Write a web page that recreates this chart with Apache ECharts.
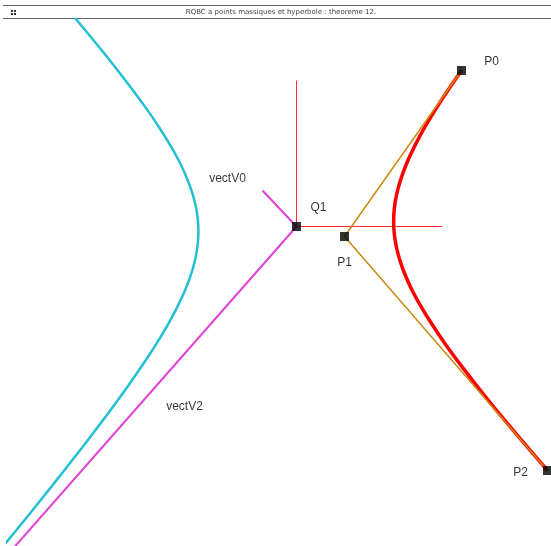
<!DOCTYPE html>
<html>
<head>
<meta charset="utf-8">
<title>RQBC a points massiques et hyperbole</title>
<script src="https://cdn.jsdelivr.net/npm/echarts@6/dist/echarts.min.js"></script>
<style>
  html, body { margin: 0; padding: 0; background: #fff; }
  #chart { width: 551px; height: 546px; }
</style>
</head>
<body>
<div id="chart"></div>
<script>
// coordonnees (repere ecran, y vers le bas)
const pointNames = ['P0', 'P1', 'P2', 'Q1']
const pointX = [461, 344, 547, 296]
const pointY = [70, 236, 470, 226]

// polygone de controle P0 - P1 - P2
const controlPolygon = [[461, 70], [344, 236], [547, 470]]

// croix rouge en Q1
const crossVertical = [[296, 80], [296, 226]]
const crossHorizontal = [[296, 226], [442, 226]]

// vecteurs (asymptotes)
const vectV0 = [[262, 190], [296, 226]]
const vectV2 = [[296, 226], [10, 551]]

// branche rouge (arc P0 -> P2)
const redBranch = [
  [461, 70], [440.2, 100.7], [425.0, 125.4], [413.9, 146.1], [405.7, 164.0],
  [399.9, 180.0], [396.0, 194.5], [393.8, 208.2], [393.1, 221.3], [393.9, 234.2],
  [396.0, 247.0], [399.5, 260.2], [404.5, 274.0], [411.1, 288.7], [419.7, 304.6],
  [430.5, 322.3], [444.0, 342.4], [461.1, 365.6], [482.6, 393.3], [510.4, 427.2],
  [547, 470],
]

// autre branche (cyan)
const cyanBranch = [
  [63.6, 4.8], [80.6, 24.8], [108.4, 58.7], [129.9, 86.4], [147.0, 109.6],
  [160.5, 129.7], [171.3, 147.4], [179.9, 163.3], [186.5, 178.0], [191.6, 191.8],
  [195.1, 205.0], [197.2, 217.8], [197.9, 230.7], [197.2, 243.8], [195.0, 257.5],
  [191.1, 272.1], [185.3, 288.0], [177.1, 305.9], [166.0, 326.6], [150.8, 351.3],
  [130.0, 382.0], [116.7, 400.5], [100.9, 421.8], [81.9, 446.7], [58.6, 476.4],
  [29.8, 512.5], [-6.9, 557.5],
]

const vectNames = ['vectV0', 'vectV2']

// decalage des etiquettes (px)
const labelOffset = {
  P0: [30, -9],
  P1: [0, 26],
  P2: [-27, 2],
  Q1: [22, -19],
  vectV0: [-35, -12],
  vectV2: [-112, 180],
}

const font = 'Liberation Sans, Arial, sans-serif'

const lineSerie = (name, data, color, width, z, smooth) => ({
  name,
  type: 'line',
  data,
  symbol: 'none',
  smooth: smooth || false,
  lineStyle: { color, width },
  z,
  silent: true,
})

const pointData = pointNames.map((name, i) => ({
  name,
  value: [pointX[i], pointY[i]],
  label: { offset: labelOffset[name] },
}))

// etiquettes des vecteurs ancrees sur le debut de vectV0 et sur Q1
const vectData = [
  { name: vectNames[0], value: vectV0[0], label: { offset: labelOffset.vectV0 } },
  { name: vectNames[1], value: vectV2[0], label: { offset: labelOffset.vectV2 } },
]

const labelStyle = {
  show: true,
  position: 'inside',
  formatter: '{b}',
  color: '#000',
  fontSize: 12,
  fontFamily: font,
}

const option = {
  animation: false,
  grid: { left: 8, top: 19, right: 0, bottom: 0 },
  // demi-pixel de decalage pour des traits fins nets
  xAxis: { type: 'value', min: 7.5, max: 550.5, show: false },
  yAxis: { type: 'value', min: 18.5, max: 545.5, inverse: true, show: false },
  graphic: [
    { type: 'line', shape: { x1: 3, y1: 5.5, x2: 551, y2: 5.5 }, style: { stroke: '#666', lineWidth: 1 } },
    { type: 'line', shape: { x1: 3, y1: 18.5, x2: 551, y2: 18.5 }, style: { stroke: '#666', lineWidth: 1 } },
    { type: 'rect', shape: { x: 11, y: 10, width: 2, height: 2 }, style: { fill: '#333' } },
    { type: 'rect', shape: { x: 14, y: 10, width: 2, height: 2 }, style: { fill: '#333' } },
    { type: 'rect', shape: { x: 11, y: 13, width: 2, height: 2 }, style: { fill: '#333' } },
    { type: 'rect', shape: { x: 14, y: 13, width: 2, height: 2 }, style: { fill: '#333' } },
    {
      type: 'text',
      x: 281,
      y: 12,
      style: {
        text: 'RQBC a points massiques et hyperbole : theoreme 12.',
        fill: '#444',
        font: '7px DejaVu Sans',
        textAlign: 'center',
        textVerticalAlign: 'middle',
      },
    },
  ],
  series: [
    lineSerie('cyan', cyanBranch, '#22c0d2', 2.5, 2, 0.3),
    lineSerie('vectV0', vectV0, '#e040d6', 2, 3),
    lineSerie('vectV2', vectV2, '#e040d6', 2, 3),
    lineSerie('axeY', crossVertical, '#ff3030', 1, 4),
    lineSerie('axeX', crossHorizontal, '#ff3030', 1, 4),
    lineSerie('hyperbole', redBranch, '#ff0000', 3.5, 5, 0.3),
    lineSerie('polygone', controlPolygon, '#c98a10', 1.5, 6),
    {
      name: 'points',
      type: 'scatter',
      data: pointData,
      symbol: 'rect',
      symbolSize: 9,
      itemStyle: { color: '#000' },
      label: labelStyle,
      z: 10,
      silent: true,
    },
    {
      name: 'vecteurs',
      type: 'scatter',
      data: vectData,
      symbolSize: 0,
      label: labelStyle,
      z: 10,
      silent: true,
    },
  ],
}

const chart = echarts.init(document.getElementById('chart'))
chart.setOption(option)
</script>
</body>
</html>
